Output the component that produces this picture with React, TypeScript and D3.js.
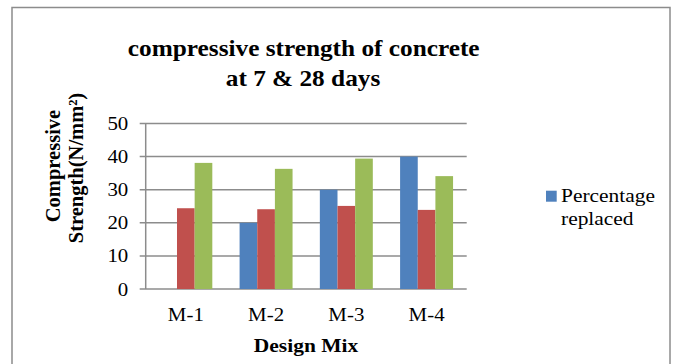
import React from "react";
import * as d3 from "d3";

const categories = ["M-1", "M-2", "M-3", "M-4"];
const seriesNames = ["Percentage replaced", "7 days", "28 days"];
const percentageReplaced = [0, 20, 30, 40];
const days7 = [24.4, 24.1, 25.1, 23.9];
const days28 = [38.1, 36.3, 39.4, 34.1];
const yTicks = [0, 10, 20, 30, 40, 50];
const colors = ["#4F81BD", "#C0504D", "#9BBB59"];
const legendNames = ["Percentage replaced"];

const W = 678;
const H = 364;
const FONT = "'Liberation Serif', 'Times New Roman', serif";
const SX = 1.1;

export default function App() {
  const series = [percentageReplaced, days7, days28];
  const plot = { left: 145.7, right: 466.7, top: 123.5, bottom: 289 };

  const y = d3.scaleLinear().domain([0, 50]).range([plot.bottom, plot.top]);
  const x0 = d3
    .scaleBand<string>()
    .domain(categories)
    .range([plot.left, plot.right])
    .paddingInner(0.34)
    .paddingOuter(0.17);
  const x1 = d3
    .scaleBand<string>()
    .domain(seriesNames)
    .range([0, x0.bandwidth()])
    .padding(0);

  const grid = "#8c8c8c";

  const sText = (
    key: string,
    x: number,
    yy: number,
    txt: React.ReactNode,
    size: number,
    opts: { anchor?: string; bold?: boolean; sx?: number } = {}
  ) => (
    <text
      key={key}
      transform={`translate(${x},${yy}) scale(${opts.sx ?? SX},1)`}
      textAnchor={opts.anchor ?? "start"}
      fontFamily={FONT}
      fontSize={size}
      fontWeight={opts.bold ? "bold" : "normal"}
      fill="#000"
    >
      {txt}
    </text>
  );

  return (
    <svg
      width={W}
      height={H}
      style={{ position: "absolute", left: 0, top: 0, background: "#fff" }}
    >
      <rect x={0} y={0} width={W} height={H} fill="#fff" />
      <rect
        x={12}
        y={7.5}
        width={658}
        height={400}
        fill="#fff"
        stroke={grid}
        strokeWidth={1.5}
      />

      {/* title */}
      {sText("t1", 303.7, 56, "compressive strength of concrete", 23, {
        anchor: "middle",
        bold: true,
        sx: 1.1,
      })}
      {sText("t2", 303, 85.5, "at 7 & 28 days", 23, {
        anchor: "middle",
        bold: true,
        sx: 1.1,
      })}

      {/* gridlines + ticks */}
      {yTicks.map((t) => (
        <g key={"g" + t}>
          <line
            x1={plot.left - 6}
            x2={plot.right}
            y1={y(t)}
            y2={y(t)}
            stroke={grid}
            strokeWidth={1.5}
          />
          {sText("yl" + t, 128.3, y(t) + 6.5, String(t), 19, { anchor: "end" })}
        </g>
      ))}
      <line
        x1={plot.left}
        x2={plot.left}
        y1={plot.top}
        y2={plot.bottom}
        stroke={grid}
        strokeWidth={1.5}
      />

      {/* bars */}
      {categories.map((c, i) => (
        <g key={c} transform={`translate(${x0(c)},0)`}>
          {series.map((s, j) =>
            s[i] > 0 ? (
              <rect
                key={j}
                x={x1(seriesNames[j])}
                y={y(s[i])}
                width={x1.bandwidth()}
                height={y(0) - y(s[i])}
                fill={colors[j]}
              />
            ) : null
          )}
        </g>
      ))}

      {/* category labels */}
      {categories.map((c) =>
        sText("c" + c, (x0(c) ?? 0) + x0.bandwidth() / 2, 320.7, c, 19, {
          anchor: "middle",
        })
      )}

      {/* x-axis title */}
      {sText("xt", 306, 351.5, "Design Mix", 19, {
        anchor: "middle",
        bold: true,
        sx: 1.13,
      })}

      {/* y-axis title */}
      <text
        transform="translate(59.5,166) rotate(-90)"
        textAnchor="middle"
        fontFamily={FONT}
        fontSize={20.5}
        fontWeight="bold"
      >
        Compressive
      </text>
      <text
        transform="translate(82.5,168) rotate(-90)"
        textAnchor="middle"
        fontFamily={FONT}
        fontSize={20.5}
        fontWeight="bold"
      >
        Strength(N/mm²)
      </text>

      {/* legend */}
      {legendNames.map((n, i) => (
        <g key={n}>
          <rect x={546} y={190.7} width={10.7} height={11} fill={colors[i]} />
          {sText("l1", 561, 202.3, "Percentage", 19.5)}
          {sText("l2", 561, 225, "replaced", 19.5)}
        </g>
      ))}
    </svg>
  );
}
